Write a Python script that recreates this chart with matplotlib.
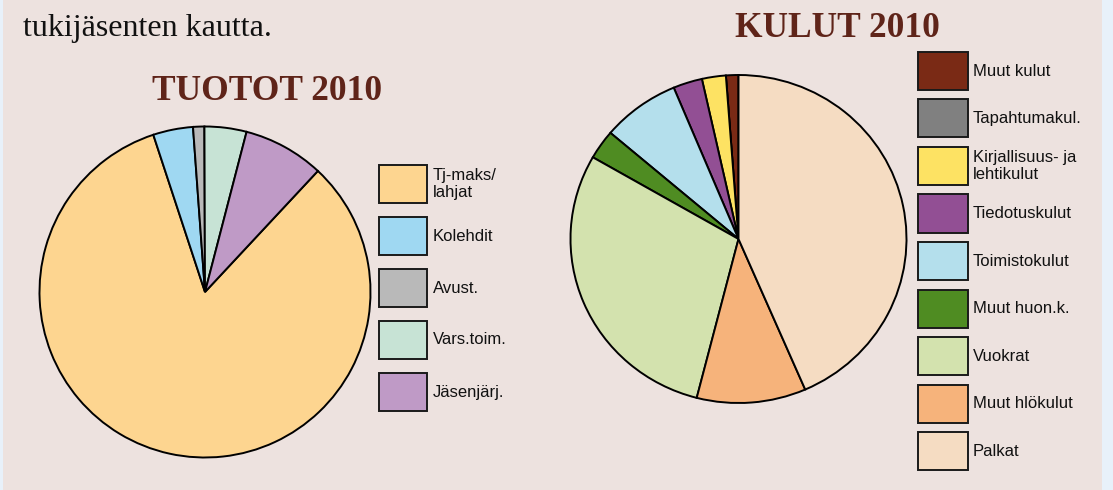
import matplotlib.pyplot as plt
from matplotlib.patches import Rectangle

# data (share of the pie, %)
tuotot_labels = ['Tj-maks/\nlahjat', 'Kolehdit', 'Avust.', 'Vars.toim.', 'Jäsenjärj.']
tuotot_values = [83.0, 3.9, 1.1, 4.1, 7.9]
tuotot_colors = ['#fdd590', '#9fd8f2', '#b9b9b9', '#c7e3d5', '#bf9ac6']

kulut_labels = ['Muut kulut', 'Tapahtumakul.', 'Kirjallisuus- ja\nlehtikulut', 'Tiedotuskulut',
                'Toimistokulut', 'Muut huon.k.', 'Vuokrat', 'Muut hlökulut', 'Palkat']
kulut_values = [1.2, 0.0, 2.3, 2.8, 7.5, 2.9, 29.3, 10.5, 43.5]
kulut_colors = ['#7a2a15', '#808080', '#fde263', '#924f94', '#b4dfec',
                '#4f8c22', '#d3e2ae', '#f6b37b', '#f5dcc2']

W, H = 1113, 490
bg = '#ede2df'
title_col = '#5f2419'

fig = plt.figure(figsize=(W / 100, H / 100), dpi=100, facecolor='#e8f1fa')
fig.patches.append(Rectangle((3 / W, 0), 1099 / W, 1, transform=fig.transFigure,
                             facecolor=bg, edgecolor='none', zorder=-5))


def px_axes(cx, cy, rx, ry):
    rx, ry = rx * 1.01, ry * 1.01
    return fig.add_axes([(cx - rx) / W, 1 - (cy + ry) / H, 2 * rx / W, 2 * ry / H])


def legend_boxes(labels, colors, x, top, w, h, pitch, tx):
    for i, (lab, col) in enumerate(zip(labels, colors)):
        y = top + i * pitch
        fig.patches.append(Rectangle((x / W, 1 - (y + h) / H), w / W, h / H,
                                     transform=fig.transFigure, facecolor=col,
                                     edgecolor='#1a1a1a', linewidth=1.4, zorder=3))
        fig.text(tx / W, 1 - (y + h / 2) / H, lab, fontsize=12, family='Liberation Sans',
                 va='center', ha='left', color='#111111', linespacing=1.1)


wedge = dict(edgecolor='black', linewidth=1.4)

ax1 = px_axes(205, 292, 165.5, 165.5)
ax1.pie(tuotot_values, colors=tuotot_colors, startangle=47, counterclock=False,
        wedgeprops=wedge, radius=1)
ax1.set_aspect('auto')
ax1.set_xlim(-1.01, 1.01)
ax1.set_ylim(-1.01, 1.01)
ax1.axis('off')

# the right-hand pie is a little wider than tall in the original
ax2 = px_axes(738.5, 239, 168, 164)
ax2.pie(kulut_values, colors=kulut_colors, startangle=90, counterclock=True,
        wedgeprops=wedge, radius=1)
ax2.set_aspect('auto')
ax2.set_xlim(-1.01, 1.01)
ax2.set_ylim(-1.01, 1.01)
ax2.axis('off')

fig.text(23 / W, 1 - 36 / H, 'tukijäsenten kautta.', fontsize=23, family='Liberation Serif',
         va='baseline', ha='left', color='#111111')
fig.text(267 / W, 1 - 100 / H, 'TUOTOT 2010', fontsize=25.5, family='Liberation Serif',
         weight='bold', va='baseline', ha='center', color=title_col)
fig.text(837 / W, 1 - 37 / H, 'KULUT 2010', fontsize=25.5, family='Liberation Serif',
         weight='bold', va='baseline', ha='center', color=title_col)

legend_boxes(tuotot_labels, tuotot_colors, 379, 165, 48, 38, 52, 433)
legend_boxes(kulut_labels, kulut_colors, 918, 52, 50, 38, 47.5, 973)

fig.savefig('out.png', dpi=100, facecolor=fig.get_facecolor())
